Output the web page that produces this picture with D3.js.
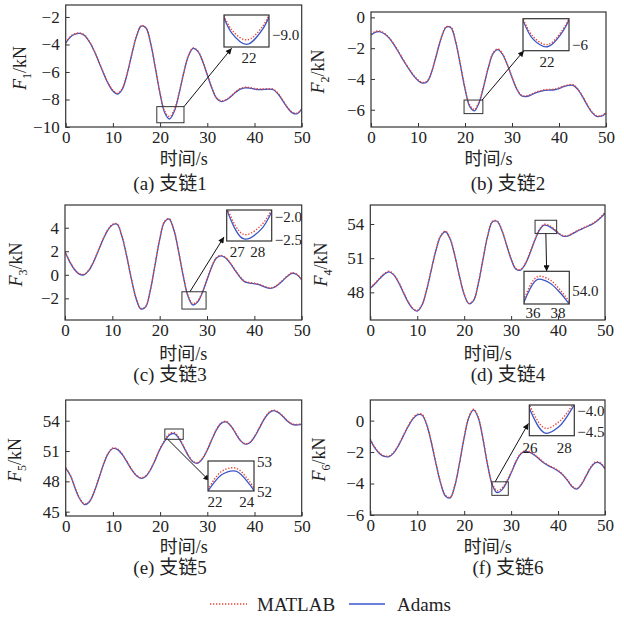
<!DOCTYPE html>
<html>
<head>
<meta charset="utf-8">
<script src="https://cdn.jsdelivr.net/npm/d3@7"></script>
<style>
  body { margin: 0; background: #fff; }
  svg text { font-family: "Liberation Serif", "Times New Roman", "Noto Sans CJK SC", serif; fill: #222; }
</style>
</head>
<body>
<div id="chart"></div>
<script>
// time axis, one sample per second
const time = d3.range(0, 51);

// branch forces, kN
const adams1 = [-3.9,-3.45,-3.25,-3.2,-3.35,-3.8,-4.45,-5.25,-6.1,-6.85,
  -7.38,-7.6,-7.25,-6.17,-4.73,-3.41,-2.67,-2.8,-3.93,-5.72,
  -7.6,-8.98,-9.42,-8.87,-7.61,-6.08,-4.83,-4.28,-4.5,-5.22,
  -6.22,-7.21,-7.93,-8.15,-8.04,-7.79,-7.48,-7.24,-7.15,-7.17,
  -7.24,-7.28,-7.27,-7.25,-7.29,-7.6,-8.1,-8.61,-8.97,-9.04,-8.7];
const matlab1 = [-3.87,-3.42,-3.22,-3.17,-3.32,-3.77,-4.42,-5.21,-6.06,-6.8,
  -7.33,-7.55,-7.2,-6.13,-4.7,-3.38,-2.64,-2.77,-3.9,-5.68,
  -7.53,-8.86,-9.25,-8.76,-7.55,-6.04,-4.8,-4.25,-4.47,-5.18,
  -6.18,-7.16,-7.88,-8.1,-8.0,-7.75,-7.44,-7.2,-7.11,-7.13,
  -7.2,-7.24,-7.23,-7.21,-7.25,-7.56,-8.06,-8.56,-8.92,-8.99,-8.66];

const adams2 = [-1.15,-0.95,-0.94,-1.1,-1.4,-1.83,-2.33,-2.85,-3.33,-3.77,
  -4.1,-4.27,-4.16,-3.45,-2.36,-1.29,-0.64,-0.67,-1.57,-3.07,
  -4.65,-5.78,-6.07,-5.54,-4.46,-3.23,-2.33,-2.09,-2.41,-3.08,
  -3.91,-4.65,-5.09,-5.14,-5.05,-4.9,-4.8,-4.74,-4.72,-4.7,
  -4.62,-4.5,-4.42,-4.41,-4.68,-5.15,-5.7,-6.17,-6.43,-6.42,-6.22];
const matlab2 = [-1.11,-0.91,-0.9,-1.06,-1.36,-1.79,-2.29,-2.81,-3.29,-3.73,
  -4.06,-4.23,-4.12,-3.41,-2.32,-1.25,-0.6,-0.63,-1.53,-3.02,
  -4.58,-5.68,-5.99,-5.47,-4.41,-3.19,-2.29,-2.05,-2.37,-3.04,
  -3.87,-4.61,-5.05,-5.1,-5.01,-4.86,-4.76,-4.7,-4.68,-4.66,
  -4.58,-4.46,-4.38,-4.37,-4.64,-5.11,-5.66,-6.13,-6.39,-6.38,-6.18];

const adams3 = [1.96,1.1,0.45,0.06,0.0,0.35,1.06,2.0,2.96,3.76,
  4.23,4.29,3.31,1.64,-0.32,-1.99,-2.9,-2.75,-1.37,0.79,
  2.99,4.47,4.74,3.8,1.96,-0.15,-1.84,-2.56,-2.32,-1.52,
  -0.42,0.67,1.42,1.61,1.4,0.93,0.34,-0.22,-0.6,-0.7,
  -0.76,-0.84,-1.0,-1.14,-1.1,-0.85,-0.5,-0.12,0.13,0.0,-0.44];
const matlab3 = [2.0,1.14,0.49,0.1,0.04,0.39,1.1,2.04,3.0,3.8,
  4.27,4.33,3.35,1.68,-0.28,-1.95,-2.85,-2.7,-1.33,0.83,
  3.03,4.51,4.78,3.84,2.0,-0.11,-1.78,-2.45,-2.22,-1.47,
  -0.38,0.71,1.46,1.65,1.44,0.97,0.38,-0.18,-0.56,-0.66,
  -0.72,-0.8,-0.96,-1.1,-1.06,-0.81,-0.46,-0.08,0.17,0.04,-0.4];

const adams4 = [48.35,48.75,49.2,49.6,49.8,49.53,48.88,48.02,47.18,46.57,
  46.36,46.87,48.2,49.97,51.71,52.93,53.32,52.69,51.22,49.4,
  47.81,47.0,47.27,48.73,50.87,52.93,54.18,54.24,53.46,52.2,
  50.9,50.05,49.95,50.47,51.42,52.5,53.45,53.9,53.82,53.55,
  53.2,52.94,52.93,53.12,53.35,53.55,53.74,53.92,54.17,54.52,54.95];
const matlab4 = [48.4,48.8,49.25,49.65,49.85,49.58,48.93,48.07,47.23,46.62,
  46.41,46.92,48.25,50.02,51.76,52.98,53.37,52.74,51.27,49.45,
  47.86,47.05,47.32,48.78,50.92,52.98,54.23,54.29,53.51,52.25,
  50.95,50.1,50.0,50.52,51.47,52.56,53.52,53.97,53.9,53.62,
  53.25,52.99,52.98,53.17,53.4,53.6,53.79,53.97,54.22,54.57,55.0];

const adams5 = [49.3,48.55,47.3,46.25,45.7,45.96,46.9,48.25,49.66,50.75,
  51.25,51.14,50.64,49.9,49.13,48.55,48.3,48.51,49.17,50.15,
  51.21,52.0,52.6,52.72,52.23,51.4,50.52,49.92,49.8,50.24,
  51.1,52.16,53.14,53.76,53.88,53.47,52.75,52.04,51.68,51.82,
  52.4,53.24,54.11,54.75,54.99,54.83,54.42,53.95,53.63,53.58,53.67];
const matlab5 = [49.35,48.6,47.35,46.3,45.75,46.01,46.95,48.3,49.71,50.8,
  51.3,51.19,50.69,49.95,49.18,48.6,48.35,48.56,49.22,50.2,
  51.27,52.08,52.72,52.83,52.33,51.46,50.57,49.97,49.85,50.29,
  51.15,52.21,53.19,53.81,53.93,53.52,52.8,52.09,51.73,51.87,
  52.45,53.29,54.16,54.8,55.04,54.88,54.47,54.0,53.68,53.63,53.72];

const adams6 = [-1.22,-1.75,-2.1,-2.28,-2.29,-2.05,-1.59,-1.0,-0.41,0.08,
  0.37,0.36,-0.25,-1.39,-2.75,-3.99,-4.79,-4.92,-4.16,-2.72,
  -1.08,0.2,0.68,0.17,-1.17,-2.84,-4.1,-4.58,-4.42,-3.95,
  -3.33,-2.64,-2.14,-1.96,-2.02,-2.2,-2.45,-2.7,-2.88,-3.03,
  -3.2,-3.45,-3.8,-4.2,-4.35,-4.05,-3.51,-2.97,-2.67,-2.72,-3.07];
const matlab6 = [-1.18,-1.71,-2.06,-2.24,-2.25,-2.01,-1.55,-0.96,-0.37,0.12,
  0.41,0.4,-0.21,-1.35,-2.71,-3.95,-4.74,-4.87,-4.12,-2.68,
  -1.04,0.24,0.72,0.21,-1.12,-2.78,-4.0,-4.46,-4.3,-3.88,
  -3.28,-2.6,-2.1,-1.92,-1.98,-2.16,-2.41,-2.66,-2.84,-2.99,
  -3.16,-3.41,-3.76,-4.16,-4.31,-4.01,-3.47,-2.93,-2.63,-2.68,-3.03];

const yDomains = [[-10, -1.13], [-7.12, 0.35], [-3.84, 5.93], [45.57, 55.67], [44.57, 56.05], [-6, 1.31]];
const yTicks = [[-10, -8, -6, -4, -2], [-6, -4, -2, 0], [-2, 0, 2, 4], [48, 51, 54], [45, 48, 51, 54], [-6, -4, -2, 0]];
const xTicks = [0, 10, 20, 30, 40, 50];
const captions = ["(a) 支链1", "(b) 支链2", "(c) 支链3", "(d) 支链4", "(e) 支链5", "(f) 支链6"];
const xTitle = "时间/s";
const legendNames = ["MATLAB", "Adams"];

// zoomed windows: box in the main plot, and the range shown in the inset
const boxT = [[19.3, 25.06], [19.8, 23.8], [24.7, 29.8], [35.1, 39.7], [21.0, 24.9], [25.9, 29.4]];
const boxV = [[-9.69, -8.52], [-6.25, -5.37], [-2.91, -1.44], [53.16, 54.33], [52.16, 53.18], [-4.75, -3.89]];
const insetT = [[20.5, 23.45], [20.3, 23.5], [26.0, 28.6], [35.85, 39.7], [21.0, 24.3], [25.84, 29.1]];
const insetV = [[-9.52, -8.3], [-6.22, -5.0], [-2.61, -1.85], [53.3, 54.1], [52.0, 53.09], [-4.64, -3.9]];
const insetXLabels = [["22"], ["22"], ["27", "28"], ["36", "38"], ["22", "24"], ["26", "28"]];
const insetYLabels = [["−9.0"], ["−6"], ["−2.0", "−2.5"], ["54.0"], ["53", "52"], ["−4.0", "−4.5"]];

const adams = [adams1, adams2, adams3, adams4, adams5, adams6];
const matlab = [matlab1, matlab2, matlab3, matlab4, matlab5, matlab6];

// layout
const W = 624, H = 619;
const frames = [
  {l: 65.7, r: 301.7, t: 5, b: 127},
  {l: 371, r: 606, t: 12, b: 127},
  {l: 65, r: 301.7, t: 205, b: 320},
  {l: 370.3, r: 605, t: 205, b: 320},
  {l: 65.7, r: 301.7, t: 400, b: 516},
  {l: 370.3, r: 605, t: 400, b: 515}
];
const insetBoxes = [
  {x: 224, y: 15, w: 45, h: 32},
  {x: 523, y: 18.7, w: 46, h: 32},
  {x: 226.7, y: 210, w: 45, h: 31},
  {x: 524, y: 271.3, w: 45.3, h: 32.7},
  {x: 208, y: 461, w: 46, h: 30},
  {x: 529.3, y: 405, w: 45, h: 30.7}
];
const insetXLabelDx = [[25], [24], [10.6, 31], [9, 34], [7, 38.7], [0.7, 35]];
const insetXLabelDy = [11, 11.3, 10.7, 9, 10.7, 12.3];
const insetYLabelDy = [[20], [26.3], [6.7, 30], [19.4], [0.7, 31], [5.7, 26.7]];
const arrows = [
  {from: [1, 0], to: [0.17, 1.04]},
  {from: [0.96, 0], to: [0.02, 1]},
  {from: [0.33, 0], to: [-0.06, 0.87]},
  {from: [0.5, 1], to: [0.5, 0]},
  {from: [0.16, 1], to: [0.03, 0.66]},
  {from: [0.2, 0], to: [-0.02, 0.6]}
];
const yTitleX = [26, 324, 22, 327, 21, 325];
const xTitleY = [159, 159, 354, 354, 547, 547];
const captionX = [170, 508, 170, 508, 170, 508];
const captionY = [183, 183, 374.5, 374.5, 567.5, 567.5];

const red = "#e8412f", blue = "#3a55c8", ink = "#333";

const svg = d3.select("#chart").append("svg")
  .attr("width", W).attr("height", H);

const defs = svg.append("defs");
defs.append("marker")
  .attr("id", "arrow")
  .attr("viewBox", "0 0 10 10")
  .attr("refX", 10).attr("refY", 5)
  .attr("markerWidth", 8).attr("markerHeight", 6)
  .attr("markerUnits", "userSpaceOnUse")
  .attr("orient", "auto")
  .append("path").attr("d", "M0,0L10,5L0,10z").attr("fill", "#111");

function drawSeries(g, x, y, values, matlabValues) {
  const line = d3.line()
    .x((d, j) => x(time[j]))
    .y(d => y(d))
    .curve(d3.curveCatmullRom.alpha(0.5));
  g.append("path").attr("d", line(values))
    .attr("fill", "none").attr("stroke", blue).attr("stroke-width", 1.3);
  g.append("path").attr("d", line(matlabValues))
    .attr("fill", "none").attr("stroke", red).attr("stroke-width", 1.4)
    .attr("stroke-dasharray", "1.3,1.7");
}

frames.forEach((f, i) => {
  const x = d3.scaleLinear().domain([0, 50]).range([f.l, f.r]);
  const y = d3.scaleLinear().domain(yDomains[i]).range([f.b, f.t]);
  const g = svg.append("g");

  // clip for main plot
  defs.append("clipPath").attr("id", "clip" + i)
    .append("rect").attr("x", f.l).attr("y", f.t).attr("width", f.r - f.l).attr("height", f.b - f.t);

  // axes with inward ticks
  const xa = g.append("g").attr("transform", `translate(0,${f.b})`)
    .call(d3.axisBottom(x).tickValues(xTicks).tickSize(-4).tickPadding(4).tickFormat(d3.format("d")));
  const ya = g.append("g").attr("transform", `translate(${f.l},0)`)
    .call(d3.axisLeft(y).tickValues(yTicks[i]).tickSize(-4).tickPadding(6).tickFormat(d3.format("d")));
  [xa, ya].forEach(a => {
    a.select(".domain").remove();
    a.selectAll("line").attr("stroke", ink).attr("stroke-width", 1);
    a.selectAll("text").attr("font-size", 17).attr("fill", "#222")
      .style("font-family", '"Liberation Serif", "Times New Roman", serif');
  });

  // curves
  const cg = g.append("g").attr("clip-path", `url(#clip${i})`);
  drawSeries(cg, x, y, adams[i], matlab[i]);

  // frame
  g.append("rect").attr("x", f.l).attr("y", f.t).attr("width", f.r - f.l).attr("height", f.b - f.t)
    .attr("fill", "none").attr("stroke", ink).attr("stroke-width", 1.2);

  // zoom box in main plot
  const bx0 = x(boxT[i][0]), bx1 = x(boxT[i][1]);
  const by0 = y(boxV[i][1]), by1 = y(boxV[i][0]);
  g.append("rect").attr("x", bx0).attr("y", by0).attr("width", bx1 - bx0).attr("height", by1 - by0)
    .attr("fill", "none").attr("stroke", ink).attr("stroke-width", 1);

  // inset
  const b = insetBoxes[i];
  const a = arrows[i];
  g.append("line")
    .attr("x1", bx0 + a.from[0] * (bx1 - bx0)).attr("y1", by0 + a.from[1] * (by1 - by0))
    .attr("x2", b.x + a.to[0] * b.w).attr("y2", b.y + a.to[1] * b.h)
    .attr("stroke", "#111").attr("stroke-width", 1)
    .attr("marker-end", "url(#arrow)");

  defs.append("clipPath").attr("id", "iclip" + i)
    .append("rect").attr("x", b.x).attr("y", b.y).attr("width", b.w).attr("height", b.h);
  g.append("rect").attr("x", b.x).attr("y", b.y).attr("width", b.w).attr("height", b.h)
    .attr("fill", "#fff");
  const ix = d3.scaleLinear().domain(insetT[i]).range([b.x, b.x + b.w]);
  const iy = d3.scaleLinear().domain(insetV[i]).range([b.y + b.h, b.y]);
  const ig = g.append("g").attr("clip-path", `url(#iclip${i})`);
  drawSeries(ig, ix, iy, adams[i], matlab[i]);
  g.append("rect").attr("x", b.x).attr("y", b.y).attr("width", b.w).attr("height", b.h)
    .attr("fill", "none").attr("stroke", ink).attr("stroke-width", 1.2);

  insetXLabels[i].forEach((t, k) => {
    g.append("text").attr("x", b.x + insetXLabelDx[i][k]).attr("y", b.y + b.h + insetXLabelDy[i])
      .attr("text-anchor", "middle").attr("dominant-baseline", "central")
      .attr("font-size", 15).text(t);
  });
  insetYLabels[i].forEach((t, k) => {
    g.append("text").attr("x", b.x + b.w + 3).attr("y", b.y + insetYLabelDy[i][k])
      .attr("dominant-baseline", "central")
      .attr("font-size", 15).text(t);
  });

  // axis titles
  const yt = g.append("text")
    .attr("transform", `translate(${yTitleX[i]},${(f.t + f.b) / 2 + 2}) rotate(-90)`)
    .attr("text-anchor", "middle").attr("font-size", 18);
  yt.append("tspan").attr("font-style", "italic").text("F");
  yt.append("tspan").attr("font-size", 12).attr("dy", 5).text(i + 1);
  yt.append("tspan").attr("dy", -5).text("/kN");

  g.append("text").attr("x", (f.l + f.r) / 2).attr("y", xTitleY[i])
    .attr("text-anchor", "middle").attr("dominant-baseline", "central")
    .attr("font-size", 18).text(xTitle);

  g.append("text").attr("x", captionX[i]).attr("y", captionY[i])
    .attr("text-anchor", "middle").attr("dominant-baseline", "central")
    .attr("font-size", 19).text(captions[i]);
});

// legend
const lg = svg.append("g");
lg.append("line").attr("x1", 210).attr("x2", 247).attr("y1", 604).attr("y2", 604)
  .attr("stroke", red).attr("stroke-width", 1.4).attr("stroke-dasharray", "1.3,1.7");
lg.append("text").attr("x", 257).attr("y", 604).attr("dominant-baseline", "central")
  .attr("font-size", 19).text(legendNames[0]);
lg.append("line").attr("x1", 349).attr("x2", 385).attr("y1", 604).attr("y2", 604)
  .attr("stroke", blue).attr("stroke-width", 1.3);
lg.append("text").attr("x", 397).attr("y", 604).attr("dominant-baseline", "central")
  .attr("font-size", 19).text(legendNames[1]);
</script>
</body>
</html>
